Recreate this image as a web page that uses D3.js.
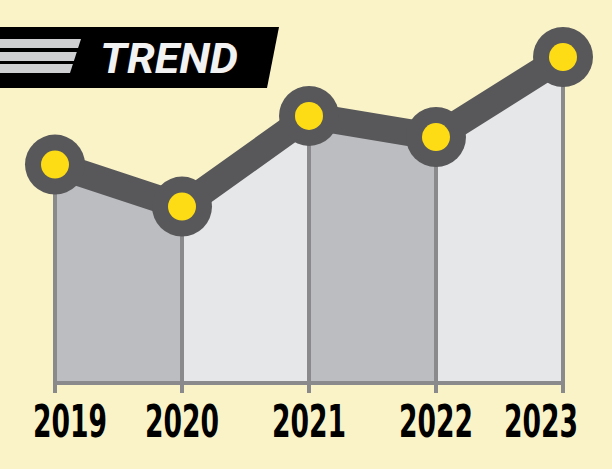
<!DOCTYPE html>
<html><head><meta charset="utf-8">
<script src="https://cdn.jsdelivr.net/npm/d3@7"></script>
<style>html,body{margin:0;padding:0;background:#faf3c8;}svg{display:block;}</style>
</head><body>
<svg id="c" width="612" height="469"></svg>
<script>
const years = ["2019","2020","2021","2022","2023"];
const values = [65, 52.5, 79.5, 73.2, 97];
const title = "TREND";

const W = 612, H = 469;
const svg = d3.select("#c");
svg.append("rect").attr("width", W).attr("height", H).attr("fill", "#faf3c8");

const x = d3.scalePoint().domain(years).range([55, 563]);
const y = d3.scaleLinear().domain([0, 100]).range([383, 47]);

// area segments
for (let i = 0; i < years.length - 1; i++) {
  const seg = [i, i + 1];
  const area = d3.area().x(j => x(years[j])).y0(y(0)).y1(j => y(values[j]));
  svg.append("path").attr("d", area(seg)).attr("fill", i % 2 === 0 ? "#bcbdc0" : "#e6e7e9");
}

// baseline
svg.append("line").attr("x1", x(years[0])).attr("x2", x(years[years.length-1]))
  .attr("y1", y(0)).attr("y2", y(0)).attr("stroke", "#8a8a8d").attr("stroke-width", 4);

// verticals + ticks
svg.selectAll("line.v").data(years).enter().append("line").attr("class", "v")
  .attr("x1", d => x(d)).attr("x2", d => x(d))
  .attr("y1", (d, i) => y(values[i])).attr("y2", y(0) + 10)
  .attr("stroke", "#8a8a8d").attr("stroke-width", 4);

// line
const line = d3.line().x((d, i) => x(years[i])).y(d => y(d));
svg.append("path").attr("d", line(values)).attr("fill", "none")
  .attr("stroke", "#58585a").attr("stroke-width", 27);

svg.selectAll("circle.o").data(values).enter().append("circle").attr("class", "o")
  .attr("cx", (d, i) => x(years[i])).attr("cy", d => y(d)).attr("r", 30).attr("fill", "#58585a");
svg.selectAll("circle.i").data(values).enter().append("circle").attr("class", "i")
  .attr("cx", (d, i) => x(years[i])).attr("cy", d => y(d)).attr("r", 14).attr("fill", "#fddc15");

// year labels
const xa = d3.axisBottom(x).tickSize(0).tickPadding(0);
const g = svg.append("g").attr("transform", `translate(0,${y(0)})`).call(xa);
g.select(".domain").remove();
g.selectAll(".tick").attr("transform", d => `translate(${Math.max(70, Math.min(541, x(d)))},0)`);
g.selectAll("text").attr("y", 54).attr("dy", null)
  .attr("font-family", "'Liberation Sans Narrow','DejaVu Sans Condensed','Roboto',sans-serif")
  .attr("font-weight", "bold").attr("font-size", 44).attr("fill", "#000")
  .attr("textLength", 74).attr("lengthAdjust", "spacingAndGlyphs");

// banner
svg.append("path").attr("d", "M0,27 L279,27 L267,88 L0,88 Z").attr("fill", "#000");
const stripes = [[39,48],[52,61],[64,73]];
stripes.forEach(([t, b]) => {
  const xr = yv => 81 - (yv - 39) * (11 / 34);
  svg.append("path").attr("d", `M0,${t} L${xr(t)},${t} L${xr(b)},${b} L0,${b} Z`).attr("fill", "#cfd0d2");
});
svg.append("text").attr("x", 100).attr("y", 73).text(title)
  .attr("font-family", "'Roboto','DejaVu Sans',sans-serif").attr("font-weight", "bold")
  .attr("font-style", "italic").attr("font-size", 43).attr("fill", "#f2f2f2")
  .attr("textLength", 138).attr("lengthAdjust", "spacingAndGlyphs");
</script>
</body></html>
